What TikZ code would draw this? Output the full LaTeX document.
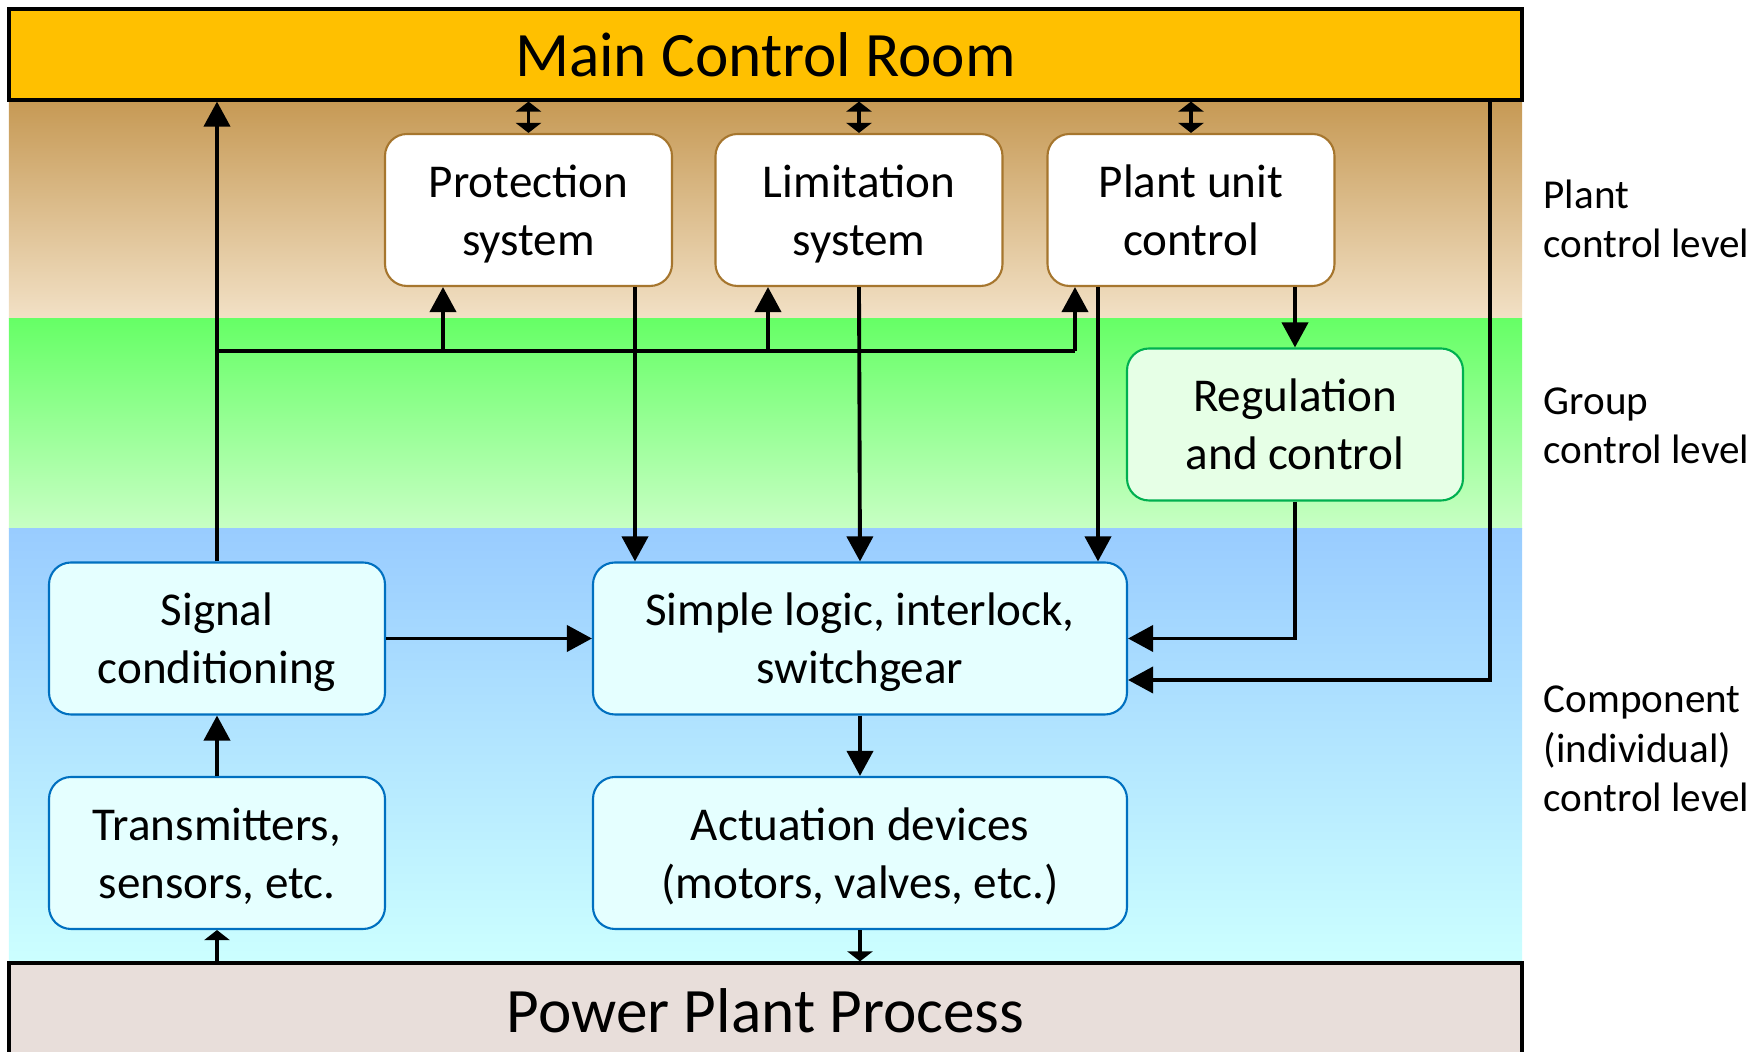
\documentclass[tikz,border=0pt]{standalone}
\usepackage{fontspec}
\setmainfont{Carlito}
\usepackage{tikz}
\usetikzlibrary{arrows.meta, positioning}

\definecolor{mcrgold}{RGB}{255,192,0}
\definecolor{plantdark}{RGB}{198,153,84}
\definecolor{plantlight}{RGB}{242,225,198}
\definecolor{plantedge}{RGB}{166,118,46}
\definecolor{groupdark}{RGB}{102,255,102}
\definecolor{grouplight}{RGB}{200,255,196}
\definecolor{groupfill}{RGB}{230,255,230}
\definecolor{groupedge}{RGB}{0,176,80}
\definecolor{compdark}{RGB}{153,204,255}
\definecolor{complight}{RGB}{204,255,255}
\definecolor{compfill}{RGB}{229,255,255}
\definecolor{compedge}{RGB}{0,112,192}
\definecolor{processfill}{RGB}{232,222,218}

\newcommand{\boxfont}{\fontsize{13.4}{16.5}\selectfont}
\newcommand{\levelfont}{\fontsize{11.7}{14}\selectfont}

\begin{document}
\begin{tikzpicture}[
    plantbox/.style={rectangle, rounded corners=2.2mm, draw=plantedge, fill=white, line width=0.6pt,
        minimum width=2.87cm, minimum height=1.52cm, align=center, font=\boxfont, text depth=-0.5pt},
    groupbox/.style={plantbox, draw=groupedge, fill=groupfill, minimum width=3.36cm},
    compbox/.style={plantbox, draw=compedge, fill=compfill, minimum width=3.36cm},
    bar/.style={rectangle, draw=black, line width=0.9pt, minimum width=15.13cm, font=\fontsize{18}{21}\selectfont},
    level/.style={anchor=west, align=left, inner xsep=0pt, font=\levelfont},
    bigarrow/.style={-{Triangle[length=2.5mm, width=2.6mm]}, line width=1.1pt},
    smallarrow/.style={-{Triangle[length=1mm, width=2.5mm]}, line width=1.1pt},
    dblarrow/.style={{Triangle[length=1mm, width=2.5mm]}-{Triangle[length=1mm, width=2.5mm]}, line width=1.1pt}
]
    \useasboundingbox (0,0) rectangle (17.6,-10.52);

    % 三个层次的背景
    \shade[top color=plantdark, bottom color=plantlight] (0.09,-1.00) rectangle (15.22,-3.19);
    \shade[top color=groupdark, bottom color=grouplight] (0.09,-3.19) rectangle (15.22,-5.29);
    \shade[top color=compdark, bottom color=complight] (0.09,-5.29) rectangle (15.22,-9.63);

    \node[bar, fill=mcrgold, minimum height=0.91cm] (mcr) at (7.655,-0.545) {Main Control Room};
    \node[bar, fill=processfill, minimum height=0.95cm] (ppp) at (7.655,-10.105) {Power Plant Process};

    \node[plantbox] (prot) at (5.285,-2.10) {Protection\\system};
    \node[plantbox] (limit) at (8.59,-2.10) {Limitation\\system};
    \node[plantbox] (unit) at (11.91,-2.10) {Plant unit\\control};
    \node[groupbox] (reg) at (12.95,-4.245) {Regulation\\and control};
    \node[compbox] (sig) at (2.17,-6.385) {Signal\\conditioning};
    \node[compbox, minimum width=5.34cm] (logic) at (8.60,-6.385) {Simple logic, interlock,\\switchgear};
    \node[compbox] (trans) at (2.17,-8.53) {Transmitters,\\sensors, etc.};
    \node[compbox, minimum width=5.34cm] (act) at (8.60,-8.53) {Actuation devices\\(motors, valves, etc.)};

    \node[level] (lplant) at (15.43,-2.19) {Plant\\control level};
    \node[level] (lgroup) at (15.43,-4.26) {Group\\control level};
    \node[level] (lcomp) at (15.43,-7.49) {Component\\(individual)\\control level};

    % 连线
    \draw[dblarrow] (prot.north |- mcr.south) -- (prot.north);
    \draw[dblarrow] (limit.north |- mcr.south) -- (limit.north);
    \draw[dblarrow] (unit.north |- mcr.south) -- (unit.north);

    \draw[bigarrow] (sig.north) -- (sig.north |- mcr.south);
    \coordinate (bus1) at (4.43,-3.51);
    \coordinate (bus2) at (7.68,-3.51);
    \coordinate (bus3) at (10.75,-3.51);
    \draw[line width=1.1pt] (sig.north |- bus1) -- (bus3);
    \draw[bigarrow] (bus1) -- (bus1 |- prot.south);
    \draw[bigarrow] (bus2) -- (bus2 |- limit.south);
    \draw[bigarrow] (bus3) -- (bus3 |- unit.south);

    \coordinate (px) at (6.35,0);
    \coordinate (ux) at (10.98,0);
    \draw[bigarrow] (prot.south -| px) -- (logic.north -| px);
    \draw[bigarrow] (limit.south) -- (logic.north);
    \draw[bigarrow] (unit.south -| ux) -- (logic.north -| ux);
    \draw[bigarrow] (unit.south -| reg.north) -- (reg.north);
    \draw[bigarrow] (reg.south) |- (logic.east);
    \coordinate (rx) at (14.90,-6.80);
    \draw[bigarrow] (mcr.south -| rx) |- (logic.east |- rx);

    \draw[bigarrow] (sig.east) -- (logic.west);
    \draw[bigarrow] (trans.north) -- (sig.south);
    \draw[bigarrow] (logic.south) -- (act.north);
    \draw[smallarrow] (ppp.north -| trans.south) -- (trans.south);
    \draw[smallarrow] (act.south) -- (act.south |- ppp.north);
\end{tikzpicture}
\end{document}
